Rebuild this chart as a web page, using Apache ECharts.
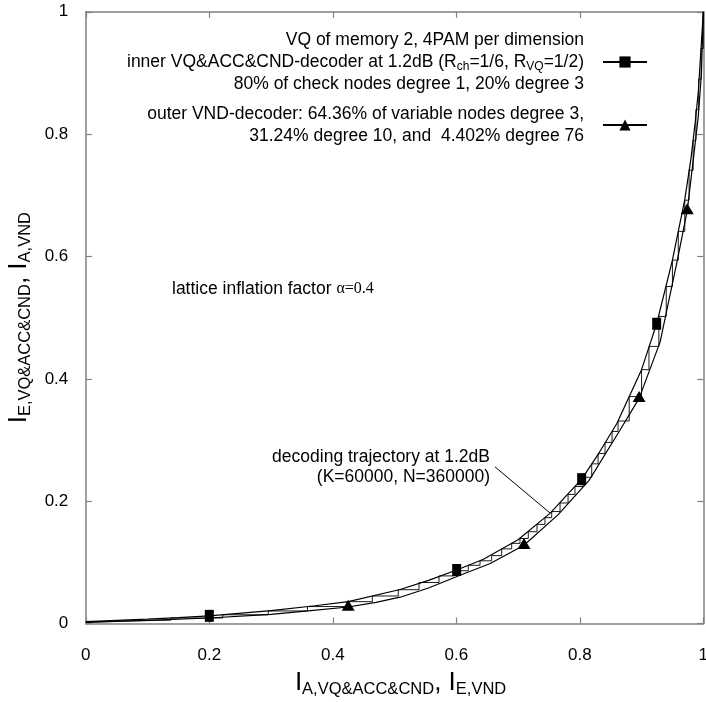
<!DOCTYPE html>
<html><head><meta charset="utf-8">
<script src="https://cdn.jsdelivr.net/npm/echarts@6/dist/echarts.min.js"></script>
<style>html,body{margin:0;padding:0;background:#fff}#c{width:706px;height:702px}</style>
</head><body><div id="c"></div>
<script>
// ---- data ----
const tickValues = [0, 0.2, 0.4, 0.6, 0.8, 1];
const tickLabels = ['0', '0.2', '0.4', '0.6', '0.8', '1'];

// inner VQ&ACC&CND-decoder transfer curve (x = I_A, y = I_E)
const innerCurveX = [0, 0.05, 0.1, 0.15, 0.3, 0.371, 0.425, 0.509, 0.555, 0.644, 0.7, 0.7517, 0.83, 0.86, 0.9, 0.95, 0.97, 0.98, 0.987, 0.992, 0.996, 1];
const innerCurveY = [0.003, 0.005, 0.007, 0.0095, 0.021, 0.029, 0.0357, 0.0556, 0.0705, 0.105, 0.137, 0.18, 0.277, 0.327, 0.415, 0.594, 0.693, 0.76, 0.82, 0.87, 0.935, 1];
const innerMarkX = [0.2, 0.6006, 0.803, 0.9245];
const innerMarkY = [0.0125, 0.0875, 0.236, 0.49];

// outer VND-decoder curve (x = I_E,VND, y = I_A,VND)
const outerCurveX = [0, 0.05, 0.1, 0.2, 0.3, 0.36, 0.47, 0.509, 0.555, 0.6, 0.655, 0.765, 0.815, 0.865, 0.93, 0.958, 0.984, 0.992, 0.997, 1];
const outerCurveY = [0.002, 0.0035, 0.005, 0.009, 0.015, 0.0205, 0.0345, 0.043, 0.058, 0.0765, 0.098, 0.178, 0.234, 0.316, 0.46, 0.594, 0.76, 0.83, 0.9, 1];
const outerMarkX = [0.425, 0.7096, 0.896, 0.974];
const outerMarkY = [0.027, 0.128, 0.368, 0.675];

// decoding trajectory: corners of the staircase
const trajStartY = 0.002;
const stepX = [0, 0.06, 0.138, 0.2217, 0.2955, 0.359, 0.4225, 0.464, 0.506, 0.5396, 0.572, 0.5963, 0.6194, 0.6384, 0.6573, 0.6735, 0.6897, 0.7031, 0.7166, 0.7307, 0.7436, 0.7545, 0.768, 0.781, 0.7922, 0.8052, 0.8193, 0.8296, 0.8409, 0.8522, 0.8619, 0.88, 0.9, 0.912, 0.928, 0.94, 0.95, 0.9595, 0.97, 0.977, 0.9835, 0.988, 0.9925, 0.9965, 1];
const stepY = [0.004, 0.0055, 0.009, 0.0143, 0.0205, 0.0277, 0.0357, 0.045, 0.0553, 0.067, 0.0778, 0.0862, 0.0952, 0.1025, 0.111, 0.122, 0.131, 0.139, 0.15, 0.162, 0.173, 0.183, 0.197, 0.211, 0.224, 0.239, 0.261, 0.278, 0.296, 0.314, 0.331, 0.371, 0.415, 0.453, 0.502, 0.551, 0.594, 0.641, 0.692, 0.741, 0.79, 0.84, 0.89, 0.94, 1];

// annotation pointer for the trajectory label
const pointerX = [0.6627, 0.7517];
const pointerY = [0.256, 0.1807];

const legendText = {
  inner: 'VQ of memory 2, 4PAM per dimension\ninner VQ&ACC&CND-decoder at 1.2dB (R{s|ch}=1/6, R{s|VQ}=1/2)\n80% of check nodes degree 1, 20% degree 3',
  outer: 'outer VND-decoder: 64.36% of variable nodes degree 3,\n31.24% degree 10, and  4.402% degree 76'
};

// ---- build ----
const FONT = '"Liberation Sans", Arial, Helvetica, sans-serif';
const frameColor = '#808080';

function buildCurve(cx, cy, mx, my, sym, size, offset) {
  const pts = cx.map((x, i) => ({ value: [x, cy[i]], symbol: 'none' }));
  mx.forEach((x, i) => pts.push({ value: [x, my[i]], symbol: sym, symbolSize: size, symbolOffset: offset }));
  pts.sort((a, b) => a.value[0] - b.value[0]);
  return pts;
}
const traj = [[stepX[0], trajStartY]];
for (let i = 0; i < stepX.length; i++) {
  traj.push([stepX[i], stepY[i]]);
  if (i + 1 < stepX.length) traj.push([stepX[i + 1], stepY[i]]);
}
const pointer = pointerX.map((x, i) => [x, pointerY[i]]);

const nameRich = {
  I: { fontSize: 26, lineHeight: 30, verticalAlign: 'middle', fontFamily: FONT, color: '#000' },
  s: { fontSize: 16.5, lineHeight: 16, verticalAlign: 'bottom', fontFamily: FONT, color: '#000' }
};

function axisCommon(extra) {
  return Object.assign({
    type: 'value', min: 0, max: 1, interval: 0.2,
    axisLine: { show: true, onZero: false, lineStyle: { color: frameColor, width: 1.5 } },
    axisTick: { show: true, inside: true, length: 6, lineStyle: { color: frameColor, width: 1.2 } },
    splitLine: { show: false },
    minorTick: { show: false }
  }, extra);
}

const chart = echarts.init(document.getElementById('c'), null, { renderer: 'canvas' });
chart.setOption({
  animation: false,
  backgroundColor: '#fff',
  grid: { left: 85.8, right: 2.7, top: 11.8, bottom: 78.5, containLabel: false, outerBoundsMode: 'none' },
  xAxis: [
    axisCommon({
      position: 'bottom',
      axisLabel: { show: true, margin: 23, fontSize: 17, color: '#000', fontFamily: FONT,
        formatter: (v) => tickLabels[tickValues.findIndex(t => Math.abs(t - v) < 1e-9)] },
      name: '{I|I}{s|A,VQ&ACC&CND}{I|,} {I|I}{s|E,VND}',
      nameLocation: 'middle', nameGap: 44,
      nameTextStyle: { fontFamily: FONT, color: '#000', fontSize: 26, padding: [0, 0, 0, 12], rich: nameRich }
    }),
    axisCommon({ position: 'top', axisLabel: { show: false } })
  ],
  yAxis: [
    axisCommon({
      position: 'left',
      axisLabel: { show: true, margin: 17.5, fontSize: 17, color: '#000', fontFamily: FONT,
        formatter: (v) => tickLabels[tickValues.findIndex(t => Math.abs(t - v) < 1e-9)] },
      name: '{I|I}{s|E,VQ&ACC&CND}{I|,} {I|I}{s|A,VND}',
      nameLocation: 'middle', nameGap: 40, nameRotate: 90,
      nameTextStyle: { fontFamily: FONT, color: '#000', fontSize: 26, rich: nameRich }
    }),
    axisCommon({ position: 'right', axisLabel: { show: false } })
  ],
  legend: {
    data: ['inner', 'outer'],
    orient: 'vertical', right: 58, top: 29, padding: 0, itemGap: 8,
    itemWidth: 44, itemHeight: 14, align: 'right', selectedMode: false,
    formatter: (n) => legendText[n],
    textStyle: { fontFamily: FONT, fontSize: 17.5, color: '#000', lineHeight: 22, padding: [0, 14, 0, 0],
      rich: { s: { fontFamily: FONT, fontSize: 12, lineHeight: 12, verticalAlign: 'bottom', color: '#000' } } }
  },
  series: [
    {
      name: 'trajectory', type: 'line', data: traj, symbol: 'none', silent: true,
      lineStyle: { color: '#000', width: 0.9 }, z: 2
    },
    {
      name: 'inner', type: 'line', data: buildCurve(innerCurveX, innerCurveY, innerMarkX, innerMarkY, 'rect', [9, 12], [0, 0]),
      symbol: 'rect', symbolSize: [9, 12], showSymbol: true, smooth: false,
      lineStyle: { color: '#000', width: 1.2 }, itemStyle: { color: '#000' }, z: 3
    },
    {
      name: 'outer', type: 'line', data: buildCurve(outerCurveX, outerCurveY, outerMarkX, outerMarkY, 'triangle', [13, 11], [0, -1.8]),
      symbol: 'triangle', symbolSize: [13, 11], showSymbol: true, smooth: false,
      lineStyle: { color: '#000', width: 1.2 }, itemStyle: { color: '#000' }, z: 3
    },
    {
      name: 'pointer', type: 'line', data: pointer, symbol: 'none', silent: true,
      lineStyle: { color: '#000', width: 1 }, z: 4
    }
  ],
  graphic: [
    { type: 'text', x: 172, y: 289, silent: true,
      style: { text: 'lattice inflation factor {a|α=0.4}', fontFamily: FONT, fontSize: 17.5, fill: '#000',
        verticalAlign: 'middle', align: 'left',
        rich: { a: { fontFamily: '"Liberation Serif", "DejaVu Serif", serif', fontSize: 16, fill: '#000' } } } },
    { type: 'text', x: 490, y: 467, silent: true,
      style: { text: 'decoding trajectory at 1.2dB\n(K=60000, N=360000)', fontFamily: FONT, fontSize: 17.5,
        lineHeight: 20, fill: '#000', align: 'right', verticalAlign: 'middle' } }
  ]
});
</script></body></html>
